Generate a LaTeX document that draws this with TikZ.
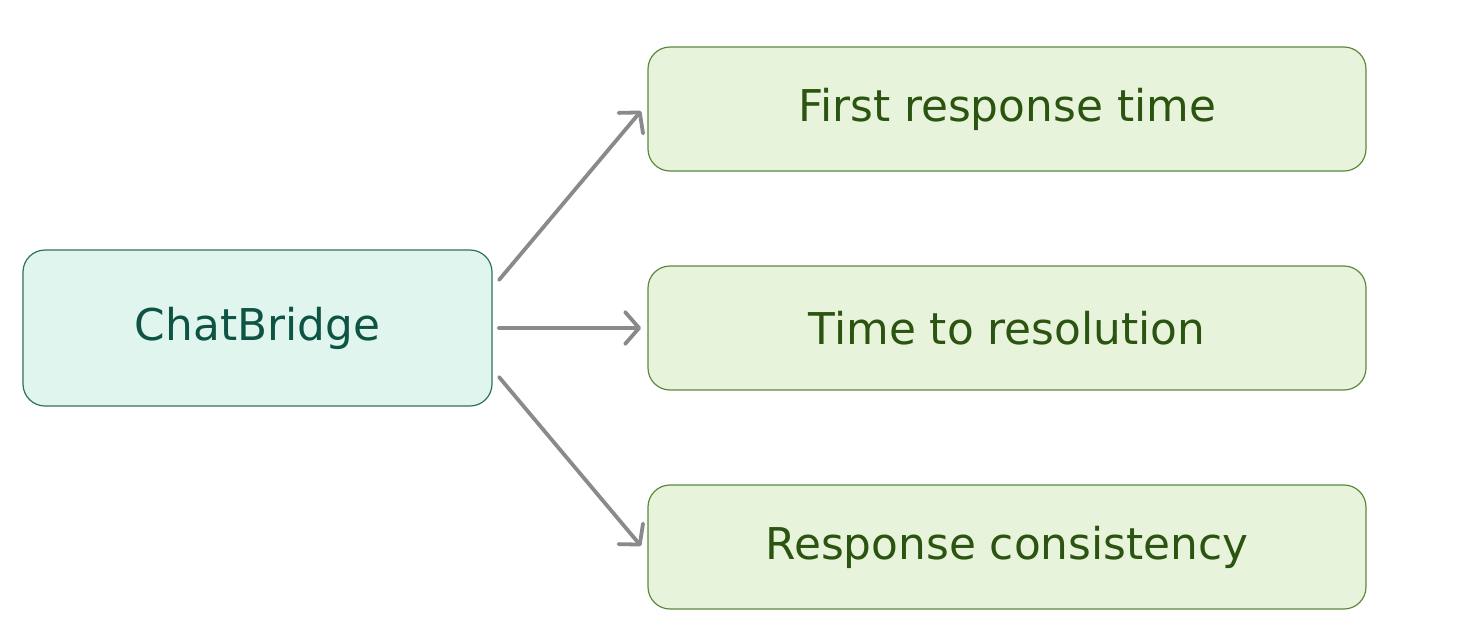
\documentclass[tikz,border=0pt]{standalone}
\usepackage{fontspec}
\setmainfont{DejaVu Sans}
\usetikzlibrary{arrows.meta}
\definecolor{srcfill}{HTML}{E0F5EE}
\definecolor{srcdraw}{HTML}{2E7258}
\definecolor{srctext}{HTML}{0E5444}
\definecolor{dstfill}{HTML}{E8F3DB}
\definecolor{dstdraw}{HTML}{5B8A3C}
\definecolor{dsttext}{HTML}{2B5410}
\definecolor{arrowgray}{HTML}{8A8A8A}
\tikzset{
  srcbox/.style={draw=srcdraw, fill=srcfill, text=srctext, rounded corners=22pt, line width=1.2pt,
    minimum width=469pt, minimum height=156pt, inner sep=0pt, font=\fontsize{43.8}{50}\selectfont},
  dstbox/.style={draw=dstdraw, fill=dstfill, text=dsttext, rounded corners=22pt, line width=1.2pt,
    minimum width=718pt, minimum height=124pt, inner sep=0pt, font=\fontsize{43.8}{50}\selectfont},
  conn/.style={draw=arrowgray, line width=3.8pt, line cap=round,
    -{Straight Barb[length=14pt,width=32pt,line width=3.8pt,round]}}
}
\begin{document}
\begin{tikzpicture}[x=1pt,y=-1pt]
\useasboundingbox (0,0) rectangle (1481,640);
\node[srcbox] (src) at (257.5,328) {ChatBridge};
\node[dstbox] (d1) at (1007,109) {First response time};
\node[dstbox] (d2) at (1007,328) {Time to resolution};
\node[dstbox] (d3) at (1007,547) {Response consistency};
\coordinate (s1) at (499,280);
\coordinate (s2) at (499,328);
\coordinate (s3) at (499,377);
\coordinate (e1) at (641,111);
\coordinate (e2) at (641,328);
\coordinate (e3) at (641,546);
\draw[conn] (s1) -- (e1);
\draw[conn] (s2) -- (e2);
\draw[conn] (s3) -- (e3);
\end{tikzpicture}
\end{document}
